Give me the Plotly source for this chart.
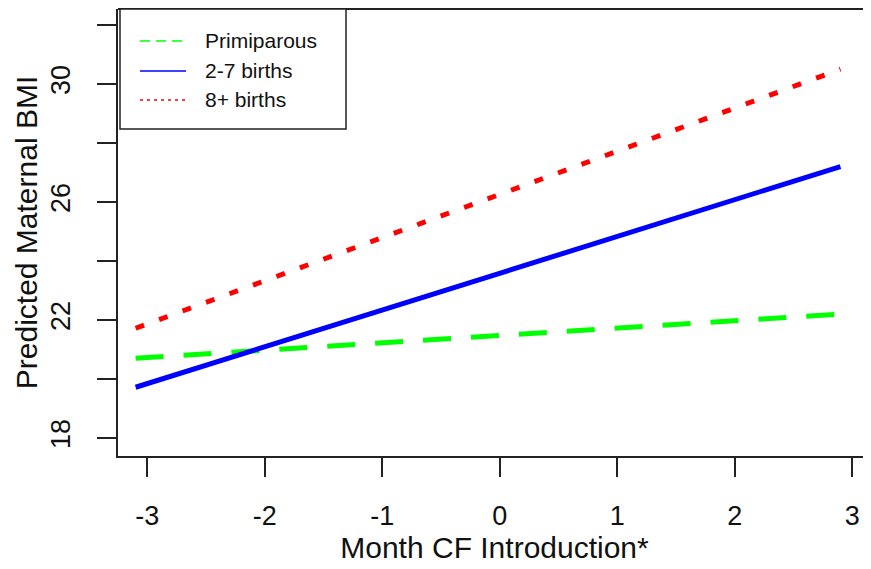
import plotly.graph_objects as go

# Data (linear predictions)
month_cf = [-3.1, 2.9]
primiparous = [20.7, 22.2]
births_2_7 = [19.72, 27.2]
births_8_plus = [21.72, 30.5]

series_names = ["Primiparous", "2-7 births", "8+ births"]
series_values = [primiparous, births_2_7, births_8_plus]
series_colors = ["#00FF00", "#0000FF", "#FF0000"]
series_dash = ["28px,20px", "solid", "9px,16px"]
legend_dash = ["10px,6px", "solid", "3px,4px"]

x_ticks = [-3, -2, -1, 0, 1, 2, 3]
y_ticks = [18, 20, 22, 24, 26, 28, 30, 32]
y_tick_labels = ["18", "", "22", "", "26", "", "30", ""]

FONT = "Liberation Sans, Arial, sans-serif"
# The page body has an 8px default margin; lay the figure out in page pixels.
OFF = 8
W, H = 871 - OFF, 569 - OFF
ML, MR, MT, MB = 118 - OFF, 0, 9 - OFF, 569 - 456
PW, PH = W - ML - MR, H - MT - MB

fig = go.Figure()
for name, vals, col, dash in zip(series_names, series_values, series_colors, series_dash):
    fig.add_trace(go.Scatter(x=month_cf, y=vals, mode="lines", name=name,
                             line=dict(color=col, width=5, dash=dash),
                             showlegend=False))

def px2paper_x(px):  # page pixel -> paper
    return (px - OFF - ML) / PW

def px2paper_y(py):
    return 1 - (py - OFF - MT) / PH

shapes = [
    dict(type="line", xref="paper", yref="paper", x0=0, x1=1, y0=1, y1=1,
         line=dict(color="#222", width=2)),
    dict(type="rect", xref="paper", yref="paper",
         x0=px2paper_x(120), x1=px2paper_x(346), y0=px2paper_y(129), y1=px2paper_y(9),
         line=dict(color="#222", width=1.5), fillcolor="white", layer="above"),
]
annotations = []
row_y = [41, 71, 100]
for name, col, dash, ry in zip(series_names, series_colors, legend_dash, row_y):
    shapes.append(dict(type="line", xref="paper", yref="paper",
                       x0=px2paper_x(140), x1=px2paper_x(186),
                       y0=px2paper_y(ry), y1=px2paper_y(ry),
                       line=dict(color=col, width=1.5, dash=dash), layer="above"))
    annotations.append(dict(xref="paper", yref="paper", x=px2paper_x(203), y=px2paper_y(ry),
                            text=name, showarrow=False, xanchor="left", yanchor="middle",
                            font=dict(family=FONT, size=21, color="#111")))

fig.update_layout(
    width=W, height=H,
    margin=dict(l=ML, r=MR, t=MT, b=MB, pad=0, autoexpand=False),
    paper_bgcolor="white", plot_bgcolor="white",
    font=dict(family=FONT, size=27, color="#111"),
    shapes=shapes, annotations=annotations,
    showlegend=False,
)
fig.update_xaxes(
    range=[-3.25, 3.16], tickvals=x_ticks, ticktext=[str(v) for v in x_ticks],
    automargin=False,
    showgrid=False, zeroline=False, showline=True, linecolor="#222", linewidth=2,
    ticks="outside", ticklen=19, tickwidth=2, tickcolor="#222",
    ticklabelstandoff=16,
    title=dict(text="Month CF Introduction*", font=dict(size=30), standoff=2),
)
fig.update_yaxes(
    range=[17.39, 32.54], tickvals=y_ticks, ticktext=y_tick_labels, tickangle=-90,
    automargin=False,
    showgrid=False, zeroline=False, showline=True, linecolor="#222", linewidth=2,
    ticks="outside", ticklen=19, tickwidth=2, tickcolor="#222",
    ticklabelstandoff=16,
    title=dict(text="Predicted Maternal BMI", font=dict(size=30), standoff=0),
)

fig.write_html("out.html")
